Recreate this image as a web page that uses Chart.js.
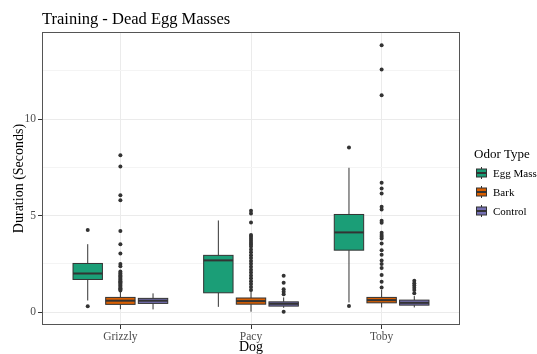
<!DOCTYPE html>
<html>
<head>
<meta charset="utf-8">
<script src="https://cdn.jsdelivr.net/npm/chart.js@4.4.1/dist/chart.umd.min.js"></script>
<style>
  html, body { margin: 0; padding: 0; background: #fff; }
</style>
</head>
<body>
<canvas id="chart" width="537" height="354"></canvas>
<script>
// values
const dogs = ["Grizzly", "Pacy", "Toby"];
const odorTypes = ["Egg Mass", "Bark", "Control"];
const odorColors = ["#1B9E77", "#D95F02", "#7570B3"];
const yTicks = [0, 5, 10];
const yMinorTicks = [2.5, 7.5, 12.5];

const eggMassLow = [0.6, 0.27, 0.5];
const eggMassQ1 = [1.69, 1.0, 3.21];
const eggMassMedian = [2.0, 2.68, 4.13];
const eggMassQ3 = [2.52, 2.94, 5.06];
const eggMassHigh = [3.52, 4.75, 7.48];
const eggMassOutliers = [[4.25, 0.3], [], [8.53, 0.31]];

const barkLow = [0.15, 0.02, 0.24];
const barkQ1 = [0.4, 0.41, 0.48];
const barkMedian = [0.59, 0.57, 0.62];
const barkQ3 = [0.76, 0.73, 0.76];
const barkHigh = [1.05, 1.08, 1.15];
const barkOutliers = [
  [8.13, 7.55, 6.06, 5.8, 4.2, 3.52, 3.04, 2.49, 2.38, 2.1, 2.03, 1.97, 1.9, 1.84, 1.78, 1.72, 1.66, 1.6, 1.54, 1.48, 1.42, 1.36, 1.3, 1.24, 1.18, 1.12],
  [5.25, 5.11, 4.65, 4.0, 3.9, 3.8, 3.7, 3.6, 3.5, 3.4, 3.25, 3.1, 2.95, 2.8, 2.65, 2.5, 2.35, 2.2, 2.05, 1.9, 1.75, 1.6, 1.45, 1.3, 1.15],
  [13.83, 12.57, 11.24, 6.7, 6.41, 6.15, 5.46, 5.32, 4.73, 4.63, 4.11, 4.0, 3.9, 3.82, 3.56, 3.2, 2.97, 2.68, 2.49, 2.28, 1.92, 1.57, 1.28]
];

const controlLow = [0.14, 0.22, 0.24];
const controlQ1 = [0.45, 0.31, 0.36];
const controlMedian = [0.59, 0.43, 0.48];
const controlQ3 = [0.71, 0.53, 0.62];
const controlHigh = [0.97, 0.76, 0.83];
const controlOutliers = [[], [1.88, 1.52, 1.18, 1.05, 0.93, 0.02], [1.62, 1.5, 1.38, 1.26, 1.15, 0.97]];

const boxStats = [
  { low: eggMassLow, q1: eggMassQ1, med: eggMassMedian, q3: eggMassQ3, high: eggMassHigh, out: eggMassOutliers },
  { low: barkLow, q1: barkQ1, med: barkMedian, q3: barkQ3, high: barkHigh, out: barkOutliers },
  { low: controlLow, q1: controlQ1, med: controlMedian, q3: controlQ3, high: controlHigh, out: controlOutliers }
];

const dodge = [-0.25, 0, 0.25];
const boxWidth = 0.225;
const serif = "'Liberation Serif', 'Times New Roman', serif";
const dark = "#333333";

// outlier points, one scatter dataset per odor type
const datasets = odorTypes.map((name, k) => ({
  label: name,
  data: boxStats[k].out.flatMap((vals, i) => vals.map(v => ({ x: i + 1 + dodge[k], y: v }))),
  pointRadius: 2,
  pointHoverRadius: 2,
  backgroundColor: dark,
  borderWidth: 0
}));

const boxPlugin = {
  id: "boxes",
  beforeDatasetsDraw(chart) {
    const { ctx, scales: { x, y } } = chart;
    ctx.save();
    boxStats.forEach((s, k) => {
      dogs.forEach((d, i) => {
        const cx = x.getPixelForValue(i + 1 + dodge[k]);
        const x0 = x.getPixelForValue(i + 1 + dodge[k] - boxWidth / 2);
        const x1 = x.getPixelForValue(i + 1 + dodge[k] + boxWidth / 2);
        const yq1 = y.getPixelForValue(s.q1[i]);
        const yq3 = y.getPixelForValue(s.q3[i]);
        ctx.strokeStyle = dark;
        ctx.lineWidth = 1;
        ctx.beginPath();
        ctx.moveTo(cx, y.getPixelForValue(s.high[i]));
        ctx.lineTo(cx, yq3);
        ctx.moveTo(cx, yq1);
        ctx.lineTo(cx, y.getPixelForValue(s.low[i]));
        ctx.stroke();
        ctx.fillStyle = odorColors[k];
        ctx.fillRect(x0, yq3, x1 - x0, yq1 - yq3);
        ctx.strokeRect(x0, yq3, x1 - x0, yq1 - yq3);
        ctx.lineWidth = 2;
        ctx.beginPath();
        const ym = y.getPixelForValue(s.med[i]);
        ctx.moveTo(x0, ym);
        ctx.lineTo(x1, ym);
        ctx.stroke();
      });
    });
    ctx.restore();
  },
  afterDraw(chart) {
    const { ctx, chartArea: a } = chart;
    ctx.save();
    // panel border
    ctx.strokeStyle = "#555";
    ctx.lineWidth = 1;
    ctx.strokeRect(a.left + 0.5, a.top + 0.5, a.right - a.left - 1, a.bottom - a.top - 1);

    ctx.fillStyle = "#000";
    ctx.textBaseline = "alphabetic";
    ctx.textAlign = "left";
    ctx.font = "16.5px " + serif;
    ctx.fillText("Training - Dead Egg Masses", a.left, 24);

    ctx.font = "14px " + serif;
    ctx.textAlign = "center";
    ctx.fillText("Dog", (a.left + a.right) / 2, 350.5);
    ctx.save();
    ctx.translate(23, (a.top + a.bottom) / 2);
    ctx.rotate(-Math.PI / 2);
    ctx.fillText("Duration (Seconds)", 0, 0);
    ctx.restore();

    // legend
    ctx.textAlign = "left";
    ctx.font = "13px " + serif;
    ctx.fillText("Odor Type", 474, 158);
    ctx.font = "11px " + serif;
    odorTypes.forEach((name, k) => {
      const cy = 173 + k * 19;
      ctx.strokeStyle = dark;
      ctx.lineWidth = 1;
      ctx.beginPath();
      ctx.moveTo(481.5, cy - 6);
      ctx.lineTo(481.5, cy + 6);
      ctx.stroke();
      ctx.fillStyle = odorColors[k];
      ctx.fillRect(476.5, cy - 4, 10, 8);
      ctx.strokeRect(476.5, cy - 4, 10, 8);
      ctx.lineWidth = 2;
      ctx.beginPath();
      ctx.moveTo(476.5, cy);
      ctx.lineTo(486.5, cy);
      ctx.stroke();
      ctx.fillStyle = "#000";
      ctx.fillText(name, 493, cy + 4);
    });
    ctx.restore();
  }
};

new Chart(document.getElementById("chart"), {
  type: "scatter",
  data: { datasets },
  plugins: [boxPlugin],
  options: {
    responsive: false,
    animation: false,
    devicePixelRatio: 1,
    layout: { padding: { top: 32, right: 77, left: 0, bottom: 0 } },
    plugins: {
      legend: { display: false },
      tooltip: { enabled: false }
    },
    scales: {
      x: {
        type: "linear",
        min: 0.4,
        max: 3.6,
        afterBuildTicks: s => { s.ticks = [1, 2, 3].map(v => ({ value: v })); },
        afterFit: s => { s.height = 29; },
        ticks: {
          callback: v => dogs[v - 1],
          color: "#4D4D4D",
          font: { family: serif, size: 11.5 },
          padding: 1,
          maxRotation: 0
        },
        grid: { color: "#EBEBEB", tickColor: dark, tickLength: 4 },
        border: { display: false }
      },
      y: {
        min: -0.67,
        max: 14.52,
        afterBuildTicks: s => {
          s.ticks = yTicks.concat(yMinorTicks).sort((p, q) => p - q).map(v => ({ value: v }));
        },
        afterFit: s => { s.width = 42; },
        ticks: {
          callback: v => (yTicks.includes(v) ? v : ""),
          color: "#4D4D4D",
          font: { family: serif, size: 11.5 },
          padding: 2
        },
        grid: {
          color: c => (yTicks.includes(c.tick.value) ? "#EBEBEB" : "#F4F4F4"),
          tickColor: c => (yTicks.includes(c.tick.value) ? dark : "rgba(0,0,0,0)"),
          tickLength: 4
        },
        border: { display: false }
      }
    }
  }
});
</script>
</body>
</html>
